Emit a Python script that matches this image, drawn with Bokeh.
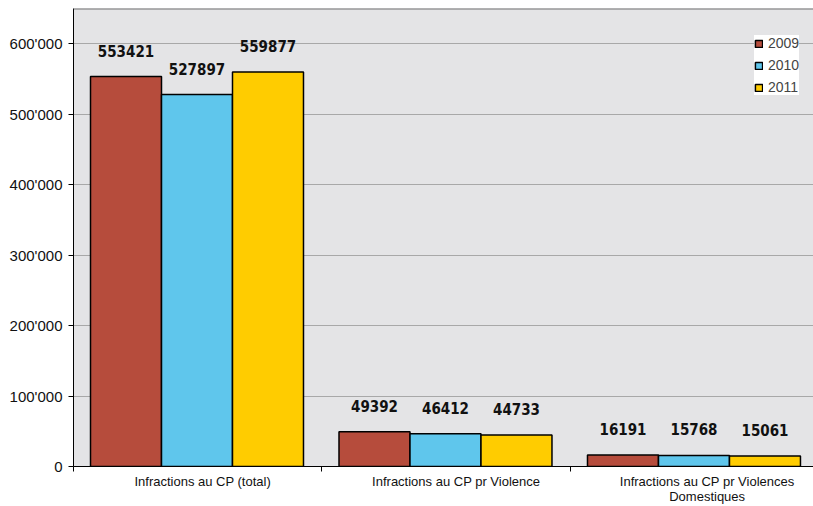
from bokeh.plotting import figure
from bokeh.models import FixedTicker, Span, ColumnDataSource, Legend, LegendItem
from bokeh.core.properties import value
from bokeh.embed import file_html
from bokeh.resources import INLINE

# Offences recorded under the penal code, per year
categories = [
    "Infractions au CP (total)",
    "Infractions au CP pr Violence",
    "Infractions au CP pr Violences\nDomestiques",
]
years = ["2009", "2010", "2011"]
v2009 = [553421, 49392, 16191]
v2010 = [527897, 46412, 15768]
v2011 = [559877, 44733, 15061]
y_ticks = [0, 100000, 200000, 300000, 400000, 500000, 600000]
y_tick_labels = ["0", "100'000", "200'000", "300'000", "400'000", "500'000", "600'000"]

series = [v2009, v2010, v2011]
colors = ["#b64c3c", "#5fc6ec", "#ffcc00"]

W, H = 813, 506
p = figure(
    width=W, height=H,
    x_range=(0, 2.978), y_range=(0, 650000),
    output_backend="svg", toolbar_location=None,
    min_border_left=73, min_border_right=0, min_border_top=8, min_border_bottom=40,
)
p.background_fill_color = "#e4e4e6"
p.border_fill_color = "white"
p.outline_line_color = None

bar_w = 0.2857
group_center = 0.497
renderers = []
for k, (yr, vals, col) in enumerate(zip(years, series, colors)):
    xs = [i + group_center + (k - 1) * bar_w for i in range(len(categories))]
    src = ColumnDataSource(dict(x=xs, top=vals, lab=[str(v) for v in vals]))
    r = p.vbar(x="x", top="top", width=bar_w, source=src,
               fill_color=col, line_color="black", line_width=1.5)
    renderers.append((yr, r))
    p.text(x="x", y="top", text="lab", source=src,
           text_align="center", text_baseline="bottom", y_offset=-20,
           text_font=value("DejaVu Sans Condensed"), text_font_style="bold",
           text_font_size="15px", text_color="#111111")

# top edge of the plotting frame
p.add_layout(Span(location=650000, dimension="width", line_color="#707070", line_width=2))

# y axis
p.yaxis.ticker = FixedTicker(ticks=y_ticks)
p.yaxis.major_label_overrides = {t: l for t, l in zip(y_ticks, y_tick_labels)}
p.yaxis.major_label_text_font = "Liberation Sans"
p.yaxis.major_label_text_font_size = "15px"
p.yaxis.major_label_text_color = "#111111"
p.yaxis.major_tick_out = 5
p.yaxis.major_tick_in = 0
p.yaxis.minor_tick_line_color = None
p.yaxis.axis_line_color = "black"
p.yaxis.major_tick_line_color = "black"
p.yaxis.major_label_standoff = 6

p.ygrid.ticker = FixedTicker(ticks=y_ticks)
p.ygrid.grid_line_color = "#a8a8a8"
p.ygrid.grid_line_width = 1
p.xgrid.grid_line_color = None

# x axis: category names under each group, small ticks at group boundaries
label_pos = [0.52, 1.54, 2.55]
p.xaxis.ticker = FixedTicker(ticks=label_pos, minor_ticks=[0, 1, 2, 3])
p.xaxis.major_label_overrides = {t: c for t, c in zip(label_pos, categories)}
p.xaxis.major_label_text_font = "Liberation Sans"
p.xaxis.major_label_text_font_size = "13px"
p.xaxis.major_label_text_color = "#111111"
p.xaxis.major_label_text_line_height = 1.0
p.xaxis.major_tick_line_color = None
p.xaxis.major_tick_out = 0
p.xaxis.major_tick_in = 0
p.xaxis.minor_tick_out = 5
p.xaxis.minor_tick_in = 0
p.xaxis.minor_tick_line_color = "black"
p.xaxis.axis_line_color = "black"
p.xaxis.major_label_standoff = 2

legend = Legend(
    items=[LegendItem(label=yr, renderers=[r]) for yr, r in renderers],
    location=(681, 371),
    background_fill_color="white", background_fill_alpha=1.0,
    border_line_color=None,
    label_text_font="Liberation Sans", label_text_font_size="14px",
    glyph_width=9, glyph_height=9, spacing=6, padding=6, margin=0,
    label_standoff=5,
)
p.add_layout(legend, "center")

open("out.html", "w").write(file_html(p, INLINE))
